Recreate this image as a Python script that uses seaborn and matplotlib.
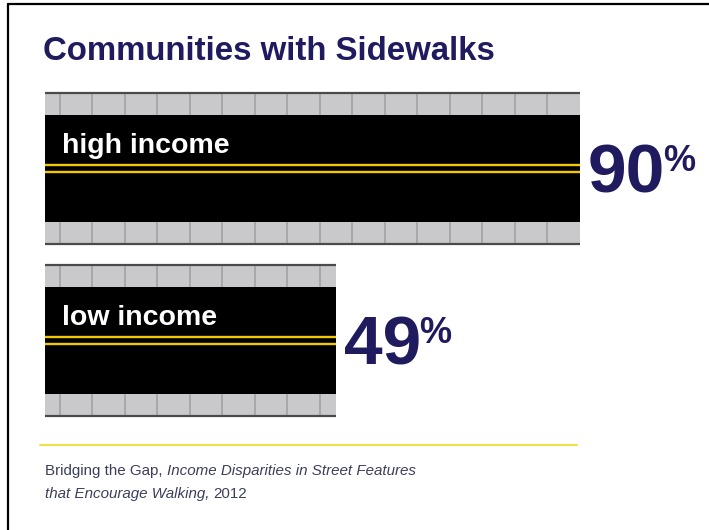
import numpy as np
import pandas as pd
import matplotlib
matplotlib.use("Agg")
import matplotlib.pyplot as plt
from matplotlib.patches import Rectangle
from matplotlib.lines import Line2D
from matplotlib import font_manager
import seaborn as sns

# ---- data ----
categories = ["high income", "low income"]
shares = [90, 49]
title_text = "Communities with Sidewalks"
source_plain_1 = "Bridging the Gap,"
source_italic_1 = "Income Disparities in Street Features"
source_italic_2 = "that Encourage Walking,"
source_plain_2 = "2012"

df = pd.DataFrame({"group": categories, "share": shares})

sns.set_theme(style="white")
available = {f.name for f in font_manager.fontManager.ttflist}
NARROW = "Liberation Sans Narrow" if "Liberation Sans Narrow" in available else "Liberation Sans"
narrow_scale = 1.0 if NARROW == "Liberation Sans Narrow" else 0.82
plt.rcParams["font.family"] = ["Liberation Sans", "DejaVu Sans"]

NAVY = "#1f1b5e"
ROAD = "#000000"
SIDEWALK = "#c9c9cb"
JOINT = "#a2a2a4"
CURB = "#4a4a4a"
STRIPE = "#f4c800"

W, H = 709, 530
fig = plt.figure(figsize=(W / 100, H / 100), dpi=100)
fig.patch.set_facecolor("white")

# axes geometry in pixels: x=0 at 45px, 5.944 px per percentage point
px_per_unit_x = 535 / 90
px_per_unit_y = 172
left_px = 45
y_top_px = 168.5 - 0.6 * px_per_unit_y
y_bot_px = 340.5 + 0.6 * px_per_unit_y
ax = fig.add_axes([left_px / W, 1 - y_bot_px / H, (W - left_px) / W, (y_bot_px - y_top_px) / H])

road_w = 0.62
walk_w = 0.13
sns.barplot(data=df, x="share", y="group", orient="h", color=ROAD,
            width=road_w, saturation=1, ax=ax, zorder=2)
ax.set_xlim(0, (W - left_px) / px_per_unit_x)
ax.set_ylim(1.6, -0.6)
ax.set_axis_off()

tile = 32.5 / px_per_unit_x
for p, label, val in zip(ax.patches, categories, shares):
    p.set_edgecolor("none")
    x0, w = p.get_x(), p.get_width()
    yc = p.get_y() + p.get_height() / 2
    h = p.get_height()
    for sign in (-1, 1):
        inner = yc + sign * h / 2
        outer = inner + sign * walk_w
        ax.add_patch(Rectangle((x0, min(inner, outer)), w, walk_w,
                               facecolor=SIDEWALK, edgecolor="none", zorder=1))
        for xj in np.arange(x0 + tile * 0.45, x0 + w - 0.3, tile):
            ax.plot([xj, xj], [inner, outer], color=JOINT, lw=1.2, zorder=1.5,
                    solid_capstyle="butt")
        ax.plot([x0, x0 + w], [outer, outer], color=CURB, lw=1.6, zorder=3,
                solid_capstyle="butt")
    # double yellow centre line
    for off in (-0.0185, 0.0185):
        ax.plot([x0, x0 + w], [yc + off, yc + off], color=STRIPE, lw=1.7,
                zorder=3, solid_capstyle="butt")
    # group label on the road
    ax.text(x0 + 2.85, yc - 0.09, label, color="white", fontsize=25 * narrow_scale,
            fontweight="bold", family=NARROW, va="baseline", ha="left", zorder=4)
    # big value label
    num = ax.text(x0 + w + 1.3, yc + 0.142, f"{val}", color=NAVY, fontsize=50,
                  fontweight="bold", va="baseline", ha="left", zorder=4)
    ax.annotate("%", xy=(1, 1), xycoords=num, xytext=(-1.2, -0.5),
                textcoords="offset points", color=NAVY, fontsize=26,
                fontweight="bold", va="top", ha="left")

# title
fig.text(43 / W, 1 - 60 / H, title_text, color=NAVY, fontsize=29 * narrow_scale,
         fontweight="bold", family=NARROW, va="baseline", ha="left")

# yellow rule above the source note
fig.add_artist(Line2D([40 / W, 577 / W], [1 - 445 / H] * 2, color="#efe24a", lw=1.5))

# source note
SRC = "#3c3f5c"
fs = 13.3 * narrow_scale
t1 = fig.text(45 / W, 1 - 475 / H, source_plain_1, color=SRC, fontsize=fs,
              family=NARROW, va="baseline", ha="left")
plt.annotate(source_italic_1, xy=(1, 0), xycoords=t1, xytext=(3, 0),
             textcoords="offset points", color=SRC, fontsize=fs, family=NARROW,
             style="italic", va="bottom", ha="left", annotation_clip=False)
t2 = fig.text(45 / W, 1 - 498 / H, source_italic_2, color=SRC, fontsize=fs,
              family=NARROW, style="italic", va="baseline", ha="left")
plt.annotate(source_plain_2, xy=(1, 0), xycoords=t2, xytext=(3, 0),
             textcoords="offset points", color=SRC, fontsize=fs, family=NARROW,
             va="bottom", ha="left", annotation_clip=False)

# frame edges along top and left
fig.add_artist(Line2D([8 / W, 1], [1 - 4 / H] * 2, color="black", lw=1.6))
fig.add_artist(Line2D([8 / W] * 2, [0, 1 - 4 / H], color="black", lw=1.6))

fig.savefig("out.png", dpi=100, facecolor="white")
